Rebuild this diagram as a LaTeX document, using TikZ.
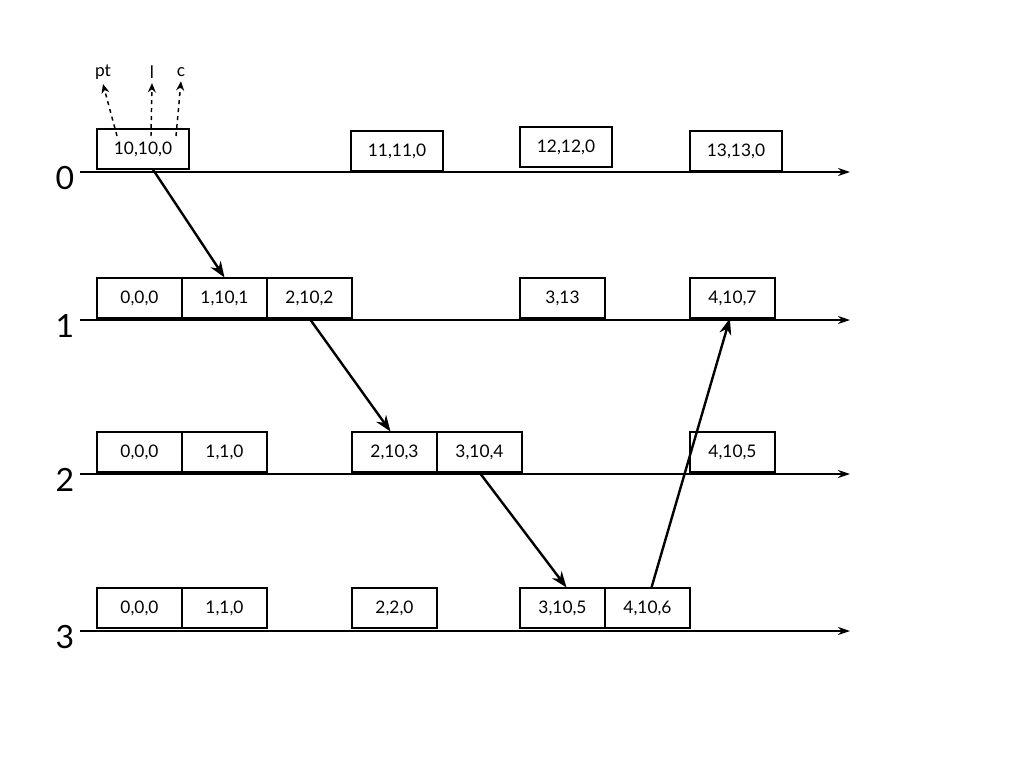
\documentclass[tikz,border=0pt]{standalone}
\usepackage{fontspec}
\setmainfont{Lato}
\usetikzlibrary{arrows.meta}
\begin{document}
\begin{tikzpicture}[x=0.75pt,y=-0.75pt,
 bx/.style={draw,line width=0.8pt,minimum height=30pt,inner sep=0pt,font=\fontsize{13}{13}\selectfont},
 w85/.style={minimum width=63.75pt},
 w92/.style={minimum width=69pt},
 tl/.style={line width=1.4pt,-{Stealth[length=9pt,width=6pt]}},
 msg/.style={line width=1.8pt,-{Stealth[length=12pt,width=9pt,open]}},
 lab/.style={font=\fontsize{24}{24}\selectfont},
 dsh/.style={dashed,line width=1.1pt,-{Stealth[length=7pt,width=6pt]}}]
\useasboundingbox (0,0) rectangle (1024,768);
% timelines
\foreach \n/\y in {0/172,1/320,2/474,3/631}{
 \coordinate (s\n) at (80,\y); \coordinate (e\n) at (850,\y);
 \draw[tl] (s\n) -- (e\n);
 \node[lab] (L\n) at (65,\y+6) {\n};
}
% row 0
\node[bx,w92] (a0) at (143,149) {10,10,0};
\node[bx,w92] (a1) at (397,151) {11,11,0};
\node[bx,w92] (a2) at (566,147) {12,12,0};
\node[bx,w92] (a3) at (736,151) {13,13,0};
% row 1
\node[bx,w85] (b0) at (139.5,298) {0,0,0};
\node[bx,w85] (b1) at (224.5,298) {1,10,1};
\node[bx,w85] (b2) at (309.5,298) {2,10,2};
\node[bx,w85] (b3) at (562.5,298) {3,13};
\node[bx,w85] (b4) at (732.5,298) {4,10,7};
% row 2
\node[bx,w85] (c0) at (139.5,452) {0,0,0};
\node[bx,w85] (c1) at (224.5,452) {1,1,0};
\node[bx,w85] (c2) at (394.5,452) {2,10,3};
\node[bx,w85] (c3) at (479.5,452) {3,10,4};
\node[bx,w85] (c4) at (732.5,452) {4,10,5};
% row 3
\node[bx,w85] (d0) at (139.5,608) {0,0,0};
\node[bx,w85] (d1) at (224.5,608) {1,1,0};
\node[bx,w85] (d2) at (394.5,608) {2,2,0};
\node[bx,w85] (d3) at (562.5,608) {3,10,5};
\node[bx,w85] (d4) at (647.5,608) {4,10,6};
% messages
\draw[msg] ([xshift=7.5pt]a0.south) -- ([xshift=0pt]b1.north);
\draw[msg] ([xshift=0pt]b2.south) -- ([xshift=-3pt]c2.north);
\draw[msg] ([xshift=0pt]c3.south) -- ([xshift=3pt]d3.north);
\draw[msg] ([xshift=3pt]d4.north) -- ([xshift=-2pt]b4.south);
% labels
\node[font=\fontsize{13}{13}\selectfont] (pt) at (103,72) {pt};
\node[font=\fontsize{13}{13}\selectfont] (l) at (152,72) {l};
\node[font=\fontsize{13}{13}\selectfont] (c) at (181,72) {c};
\coordinate (p1) at (117,136); \coordinate (p2) at (151,136); \coordinate (p3) at (176,136);
\draw[dsh] (p1) -- (pt.south);
\draw[dsh] (p2) -- (l.south);
\draw[dsh] (p3) -- (c.south);
\end{tikzpicture}
\end{document}
